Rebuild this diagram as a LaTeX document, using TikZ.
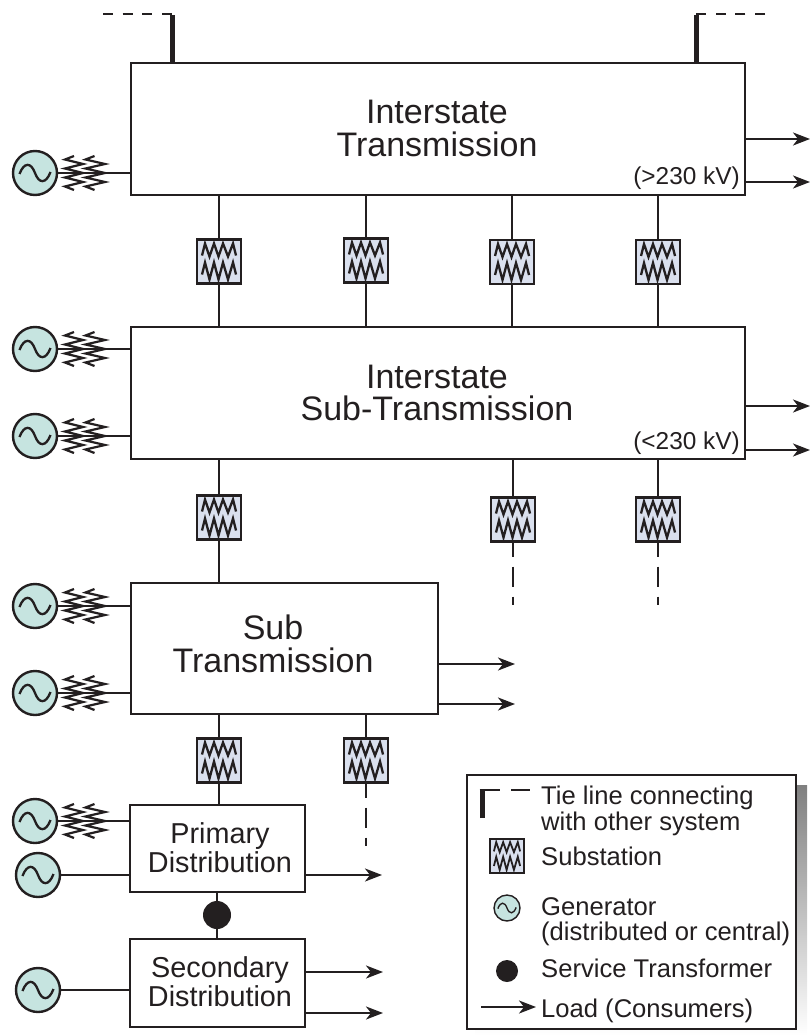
\documentclass[tikz,border=0pt]{standalone}
\usepackage{fontspec}
\setmainfont{Liberation Sans}
\usetikzlibrary{arrows.meta}
\definecolor{ink}{HTML}{231F20}
\definecolor{genfill}{HTML}{C6E4E0}
\definecolor{subfill}{HTML}{DAE0EE}
\definecolor{shade}{HTML}{D1D3D4}
\tikzset{
  wire/.style={draw=ink,line width=2.2pt},
  netbox/.style={draw=ink,line width=2.5pt,fill=white,rectangle,inner sep=0pt,outer sep=0pt},
  substn/.style={draw=ink,line width=2.5pt,fill=subfill,rectangle,inner sep=0pt,outer sep=0pt,minimum size=44pt},
  gennode/.style={draw=ink,line width=2.4pt,fill=genfill,circle,inner sep=0pt,outer sep=0pt,minimum size=44pt},
  coil/.style={draw=ink,line join=miter,miter limit=10},
  load/.style={draw=ink,line width=2.2pt,-{Stealth[length=17pt,width=13pt,inset=5pt]}},
  tieline/.style={draw=ink,line width=5pt},
  tiedash/.style={draw=ink,line width=2.4pt,dash pattern=on 10pt off 9.7pt},
  tail/.style={draw=ink,line width=2.2pt,dash pattern=on 15pt off 10pt on 20pt off 10pt on 8pt off 200pt},
  bigtxt/.style={font=\fontsize{34}{32.5}\selectfont,text=ink,align=center,inner sep=0pt},
  midtxt/.style={font=\fontsize{28.8}{29}\selectfont,text=ink,align=center,inner sep=0pt},
  kvtxt/.style={font=\fontsize{24.4}{24}\selectfont,text=ink,inner sep=0pt,anchor=east},
  legtxt/.style={font=\fontsize{25.6}{25.6}\selectfont,text=ink,inner sep=0pt,anchor=base west},
  svc/.style={fill=ink,circle,inner sep=0pt,outer sep=0pt},
}
% substation: name, x, y, scale
\newcommand{\SubSt}[4]{%
  \node[substn,minimum size=#4*44pt,line width=#4*2.5pt] (#1) at (#2,#3) {};
  \begin{scope}[shift={(#2,#3)},x=#4*1pt,y=-#4*1pt]
    \draw[coil,line width=#4*2.3pt] (-17,-6)--(-14,-18)--(-9.5,-5)--(-5,-18)--(-0.5,-5)--(4,-18)--(9,-5)--(14,-18)--(17,-6);
    \draw[coil,line width=#4*2.3pt] (-17,13)--(-14,1)--(-9.5,18)--(-5,1)--(-0.5,18)--(4,1)--(9,18)--(14,1)--(17,13);
  \end{scope}}
% generator: name, x, y, diameter scale
\newcommand{\GenSet}[4]{%
  \node[gennode,minimum size=#4*44pt,line width=#4*2.4pt] (#1) at (#2,#3) {};
  \begin{scope}[shift={(#2,#3)},x=#4*1pt,y=-#4*1pt]
    \draw[draw=ink,line width=#4*2.3pt] (-15.5,1) .. controls (-11,-11) and (-4,-11) .. (0,0) .. controls (4,11) and (11,11) .. (15.5,-1);
  \end{scope}}
% step-up winding pair beside a generator centred at x,y
\newcommand{\Winding}[2]{%
  \begin{scope}[shift={(#1,#2)}]
    \draw[coil,line width=2.2pt] (39,-17)--(30,-13.5)--(48,-9)--(30,-4.5)--(48,0)--(30,4.5)--(48,9)--(30,13.5)--(39,17);
    \draw[coil,line width=2.2pt] (59.5,-17)--(50.5,-13.5)--(70,-9)--(50.5,-4.5)--(70,0)--(50.5,4.5)--(70,9)--(50.5,13.5)--(59.5,17);
  \end{scope}}
\begin{document}
\begin{tikzpicture}[x=1pt,y=-1pt]
\useasboundingbox (0,0) rectangle (810,1035);
% network boxes
\node[netbox,minimum width=614pt,minimum height=132pt] (b1) at (438,129) {};
\node[netbox,minimum width=614pt,minimum height=132pt] (b2) at (438,393) {};
\node[netbox,minimum width=307pt,minimum height=131pt] (b3) at (284.5,648.5) {};
\node[netbox,minimum width=175pt,minimum height=87pt] (b4) at (217.5,848.5) {};
\node[netbox,minimum width=175pt,minimum height=88pt] (b5) at (217.5,983) {};
% box labels
\node[bigtxt] (l1) at (437,128.5) {Interstate\\Transmission};
\node[bigtxt] (l2) at (437,393) {Interstate\\Sub-Transmission};
\node[bigtxt] (l3) at (273,644) {Sub\\Transmission};
\node[midtxt] (l4) at (220,848) {Primary\\Distribution};
\node[midtxt] (l5) at (220,982) {Secondary\\Distribution};
\node[kvtxt] (kv1) at (740,178) {(>230 kV)};
\node[kvtxt] (kv2) at (740,443) {(<230 kV)};
% substations
\SubSt{s1}{219}{261.5}{1}
\SubSt{s2}{366}{260.5}{1}
\SubSt{s3}{512}{262}{1}
\SubSt{s4}{658}{262}{1}
\SubSt{s5}{219}{517.5}{1}
\SubSt{s6}{513}{519.5}{1}
\SubSt{s7}{658}{519.5}{1}
\SubSt{s8}{219}{760.5}{1}
\SubSt{s9}{366}{760.5}{1}
\foreach \s in {s1,s2,s3,s4}{
  \draw[wire] (\s.north |- b1.south) -- (\s.north);
  \draw[wire] (\s.south) -- (\s.south |- b2.north);
}
\draw[wire] (s5.north |- b2.south) -- (s5.north);
\draw[wire] (s5.south) -- (s5.south |- b3.north);
\draw[wire] (s6.north |- b2.south) -- (s6.north);
\draw[wire] (s7.north |- b2.south) -- (s7.north);
\draw[wire] (s8.north |- b3.south) -- (s8.north);
\draw[wire] (s8.south) -- (s8.south |- b4.north);
\draw[wire] (s9.north |- b3.south) -- (s9.north);
% dashed continuations
\coordinate (e6) at (513,606);
\coordinate (e7) at (658,606);
\coordinate (e9) at (366,847);
\draw[tail] (s6.south) -- (e6);
\draw[tail] (s7.south) -- (e7);
\draw[tail] (s9.south) -- (e9);
% generators
\GenSet{g1}{35}{173}{1}
\GenSet{g2}{35}{349}{1}
\GenSet{g3}{35}{436}{1}
\GenSet{g4}{35}{606}{1}
\GenSet{g5}{35}{693}{1}
\GenSet{g6}{35}{821}{1}
\GenSet{g7}{38}{875}{1}
\GenSet{g8}{38}{990}{1}
\draw[wire] (g1.east) -- (g1.east -| b1.west);
\draw[wire] (g2.east) -- (g2.east -| b2.west);
\draw[wire] (g3.east) -- (g3.east -| b2.west);
\draw[wire] (g4.east) -- (g4.east -| b3.west);
\draw[wire] (g5.east) -- (g5.east -| b3.west);
\draw[wire] (g6.east) -- (g6.east -| b4.west);
\draw[wire] (g7.east) -- (g7.east -| b4.west);
\draw[wire] (g8.east) -- (g8.east -| b5.west);
\Winding{35}{173}
\Winding{35}{349}
\Winding{35}{436}
\Winding{35}{606}
\Winding{35}{693}
\Winding{35}{821}
% service transformer
\node[svc,minimum size=28pt] (st) at (217,915) {};
\draw[wire] (st.north |- b4.south) -- (st.north);
\draw[wire] (st.south) -- (st.south |- b5.north);
% loads
\coordinate (a1) at (810,139);
\coordinate (a2) at (810,182);
\coordinate (a3) at (810,406);
\coordinate (a4) at (810,450);
\coordinate (a5) at (515,664);
\coordinate (a6) at (515,704);
\coordinate (a7) at (382,875);
\coordinate (a8) at (383,972);
\coordinate (a9) at (383,1013);
\draw[load] (a1 -| b1.east) -- (a1);
\draw[load] (a2 -| b1.east) -- (a2);
\draw[load] (a3 -| b2.east) -- (a3);
\draw[load] (a4 -| b2.east) -- (a4);
\draw[load] (a5 -| b3.east) -- (a5);
\draw[load] (a6 -| b3.east) -- (a6);
\draw[load] (a7 -| b4.east) -- (a7);
\draw[load] (a8 -| b5.east) -- (a8);
\draw[load] (a9 -| b5.east) -- (a9);
% tie lines
\coordinate (tl) at (172,14);
\coordinate (tr) at (696,14);
\coordinate (tle) at (103,14);
\coordinate (tre) at (765,14);
\draw[tieline] (tl |- b1.north) -- ([yshift=-1pt]tl);
\draw[tieline] (tr |- b1.north) -- ([yshift=-1pt]tr);
\draw[tiedash] (tle) -- ([xshift=2pt]tl);
\draw[tiedash] (tre) -- ([xshift=-2pt]tr);
% legend
\fill[shade] (475,785) rectangle (807,1035);
\node[netbox,minimum width=329pt,minimum height=254pt] (leg) at (631.5,902) {};
\coordinate (k1) at (482,818);
\coordinate (k2) at (482,790);
\coordinate (k3) at (500,790);
\coordinate (k4) at (511,790);
\coordinate (k5) at (530,790);
\draw[draw=ink,line width=5pt] (k1) -- (k2);
\draw[draw=ink,line width=2.4pt] ([xshift=-2.5pt]k2) -- (k3);
\draw[draw=ink,line width=2.4pt] (k4) -- (k5);
\SubSt{ks}{507}{856}{0.77}
\GenSet{kg}{507}{908}{0.59}
\node[svc,minimum size=22pt] (kt) at (507,971) {};
\coordinate (ka) at (481,1007);
\coordinate (kb) at (536,1007);
\draw[load] (ka) -- (kb);
\node[legtxt] (t1) at (541,804) {Tie line connecting};
\node[legtxt] (t2) at (541,830) {with other system};
\node[legtxt] (t3) at (541,865) {Substation};
\node[legtxt] (t4) at (541,915) {Generator};
\node[legtxt] (t5) at (541,940) {(distributed or central)};
\node[legtxt] (t6) at (541,977) {Service Transformer};
\node[legtxt] (t7) at (541,1017) {Load (Consumers)};
\end{tikzpicture}
\end{document}
